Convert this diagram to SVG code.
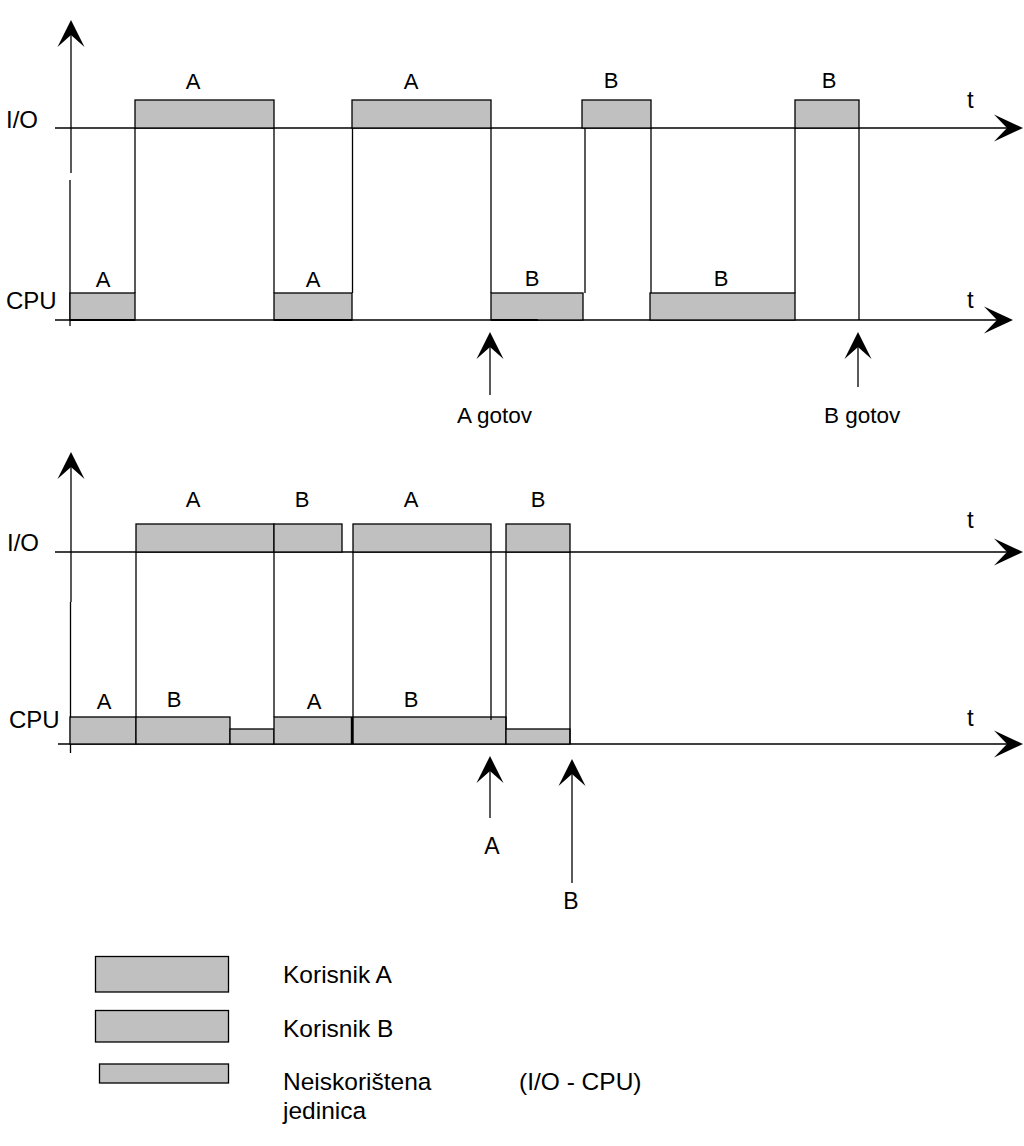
<svg xmlns="http://www.w3.org/2000/svg" xmlns:xlink="http://www.w3.org/1999/xlink" width="1024" height="1146" viewBox="0 0 1024 1146">
<style>
.box{fill:#c0c0c0;stroke:#000;stroke-width:1.3}
.ln{stroke:#000;stroke-width:1.3;fill:none}
.ah{fill:#000;stroke:none}
text{font-family:"Liberation Sans",Arial,sans-serif;fill:#000}
.lb{font-size:22px;text-anchor:middle}
.ax{font-size:24px}
.mk{font-size:22.5px}
.lg{font-size:24.5px}
</style>
<defs>
<path id="ahR" d="M0,0 L-29,-13.5 L-16,0 L-29,13.5 Z"/>
<path id="ahU" d="M0,0 L-13.5,27 L0,15 L13.5,27 Z"/>
</defs>
<rect width="1024" height="1146" fill="#fff"/>

<!-- ===== Top chart ===== -->
<g id="top-axes">
<line class="ln" x1="71" y1="30" x2="71" y2="173"/>
<line class="ln" x1="70" y1="180" x2="70" y2="326"/>
<use class="ah" xlink:href="#ahU" x="71" y="20"/>
<line class="ln" x1="55" y1="128" x2="1010" y2="128"/>
<use class="ah" xlink:href="#ahR" x="1023" y="128"/>
<line class="ln" x1="55" y1="320" x2="1002" y2="320"/>
<use class="ah" xlink:href="#ahR" x="1013" y="320"/>
<text class="ax" x="6" y="128">I/O</text>
<text class="ax" x="6" y="309">CPU</text>
<text class="ax" x="967" y="108">t</text>
<text class="ax" x="967" y="308">t</text>
</g>
<g id="top-io-boxes">
<rect class="box" x="135" y="100" width="139" height="28"/>
<rect class="box" x="352" y="100" width="139" height="28"/>
<rect class="box" x="582" y="100" width="69" height="28"/>
<rect class="box" x="795" y="100" width="64" height="28"/>
<text class="lb" x="193" y="89">A</text>
<text class="lb" x="411" y="89">A</text>
<text class="lb" x="611" y="88">B</text>
<text class="lb" x="829" y="88">B</text>
</g>
<g id="top-cpu-boxes">
<rect class="box" x="70" y="293" width="65" height="27"/>
<rect class="box" x="274" y="293" width="78" height="27"/>
<rect class="box" x="491" y="293" width="92" height="27"/>
<rect class="box" x="650" y="293" width="145" height="27"/>
<line class="ln" x1="70" y1="320" x2="135" y2="320" style="stroke-width:2.2"/>
<line class="ln" x1="274" y1="320" x2="352" y2="320" style="stroke-width:2.2"/>
<line class="ln" x1="491" y1="320" x2="538" y2="320" style="stroke-width:2.2"/>
<text class="lb" x="103" y="287">A</text>
<text class="lb" x="313" y="287">A</text>
<text class="lb" x="532" y="286">B</text>
<text class="lb" x="721" y="286">B</text>
</g>
<g id="top-connectors">
<line class="ln" x1="135" y1="128" x2="135" y2="293"/>
<line class="ln" x1="274" y1="128" x2="274" y2="293"/>
<line class="ln" x1="352.5" y1="128" x2="352.5" y2="293"/>
<line class="ln" x1="491" y1="128" x2="491" y2="293"/>
<line class="ln" x1="585" y1="128" x2="585" y2="293"/>
<line class="ln" x1="651" y1="128" x2="651" y2="293"/>
<line class="ln" x1="795" y1="128" x2="795" y2="293"/>
<line class="ln" x1="859" y1="128" x2="859" y2="320"/>
<line class="ln" x1="490" y1="345" x2="490" y2="395"/>
<use class="ah" xlink:href="#ahU" x="490" y="332"/>
<line class="ln" x1="858" y1="345" x2="858" y2="387"/>
<use class="ah" xlink:href="#ahU" x="858" y="332"/>
</g>
<g id="top-markers">
<text class="mk" x="457" y="423">A gotov</text>
<text class="mk" x="824" y="423">B gotov</text>
</g>

<!-- ===== Bottom chart ===== -->
<g id="bottom-axes">
<line class="ln" x1="71" y1="462" x2="71" y2="602"/>
<line class="ln" x1="70.5" y1="602" x2="70.5" y2="753"/>
<use class="ah" xlink:href="#ahU" x="71" y="452"/>
<line class="ln" x1="55" y1="552" x2="1010" y2="552"/>
<use class="ah" xlink:href="#ahR" x="1023" y="552"/>
<line class="ln" x1="58" y1="744" x2="1010" y2="744"/>
<use class="ah" xlink:href="#ahR" x="1023" y="744"/>
<text class="ax" x="7" y="551">I/O</text>
<text class="ax" x="9" y="728">CPU</text>
<text class="ax" x="967" y="528">t</text>
<text class="ax" x="967" y="726">t</text>
</g>
<g id="bottom-io-boxes">
<rect class="box" x="136" y="524" width="138" height="28"/>
<rect class="box" x="274" y="524" width="68" height="28"/>
<rect class="box" x="353" y="524" width="138" height="28"/>
<rect class="box" x="506" y="524" width="64" height="28"/>
<text class="lb" x="193" y="507">A</text>
<text class="lb" x="302" y="507">B</text>
<text class="lb" x="411" y="507">A</text>
<text class="lb" x="538" y="507">B</text>
</g>
<g id="bottom-cpu-boxes">
<rect class="box" x="70" y="717" width="66" height="27"/>
<rect class="box" x="136" y="717" width="94" height="27"/>
<rect class="box" x="230" y="729" width="44" height="15"/>
<rect class="box" x="274" y="717" width="78" height="27"/>
<rect class="box" x="353" y="717" width="153" height="27"/>
<rect class="box" x="506" y="729" width="64" height="15"/>
<line class="ln" x1="352" y1="717" x2="352" y2="744" style="stroke-width:2.4"/>
<text class="lb" x="104" y="709">A</text>
<text class="lb" x="174" y="707">B</text>
<text class="lb" x="314" y="709">A</text>
<text class="lb" x="411" y="707">B</text>
</g>
<g id="bottom-connectors">
<line class="ln" x1="136" y1="552" x2="136" y2="717"/>
<line class="ln" x1="274" y1="552" x2="274" y2="717"/>
<line class="ln" x1="353" y1="552" x2="353" y2="717"/>
<line class="ln" x1="491" y1="552" x2="491" y2="720"/>
<line class="ln" x1="506" y1="552" x2="506" y2="729"/>
<line class="ln" x1="570" y1="552" x2="570" y2="744"/>
<line class="ln" x1="490" y1="770" x2="490" y2="818"/>
<use class="ah" xlink:href="#ahU" x="490" y="756"/>
<line class="ln" x1="572" y1="773" x2="572" y2="883"/>
<use class="ah" xlink:href="#ahU" x="572" y="759"/>
</g>
<g id="bottom-markers">
<text class="lb" x="492" y="854" style="font-size:23px">A</text>
<text class="lb" x="571" y="909" style="font-size:23px">B</text>
</g>

<!-- ===== Legend ===== -->
<g id="legend-a">
<rect class="box" x="95.5" y="956.5" width="133" height="35.5"/>
<text class="lg" x="283" y="983">Korisnik A</text>
</g>
<g id="legend-b">
<rect class="box" x="95.5" y="1010.5" width="133" height="31.5"/>
<text class="lg" x="283" y="1037">Korisnik B</text>
</g>
<g id="legend-unused">
<rect class="box" x="99.5" y="1064" width="129" height="19"/>
<text class="lg" x="283" y="1090">Neiskorištena</text>
<text class="lg" x="283" y="1119">jedinica</text>
<text class="lg" x="519" y="1090">(I/O - CPU)</text>
</g>
</svg>
